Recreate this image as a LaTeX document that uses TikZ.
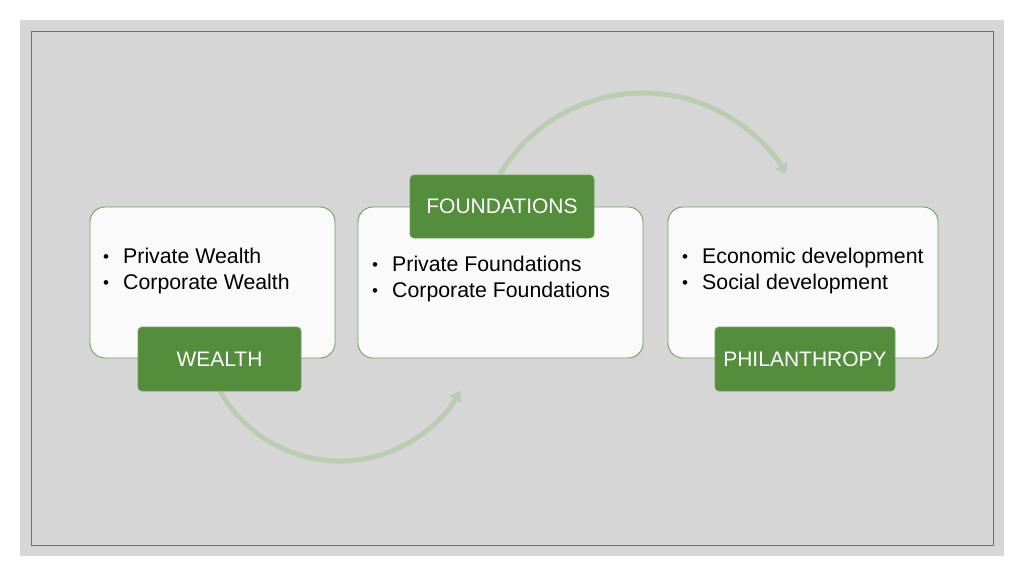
\documentclass[tikz,border=0pt]{standalone}
\usepackage{fontspec}
\setmainfont{Liberation Sans}
\usetikzlibrary{arrows.meta}
\definecolor{bggray}{RGB}{214,214,214}
\definecolor{frameline}{RGB}{110,110,110}
\definecolor{boxfill}{RGB}{250,250,250}
\definecolor{boxline}{RGB}{112,160,92}
\definecolor{grn}{RGB}{84,141,60}
\definecolor{arcgreen}{RGB}{186,205,178}
\tikzset{
  whitebox/.style={draw=boxline, line width=0.9pt, fill=boxfill, rounded corners=15pt, inner sep=0pt},
  greenbox/.style={draw=boxline, line width=0.7pt, fill=grn, rounded corners=4pt, inner sep=0pt,
    text=white, font=\fontsize{21}{25}\selectfont},
  itemline/.style={anchor=base west, inner sep=0pt, font=\fontsize{21.3}{25}\selectfont},
  flowarc/.style={draw=arcgreen, line width=5pt, -{Triangle[length=10pt,width=14pt]}}
}
\newcommand{\bul}[1]{\makebox[20pt][l]{\fontsize{17}{20}\selectfont\raisebox{1pt}{•}}#1}
\begin{document}
\begin{tikzpicture}[x=1pt,y=-1pt]
\useasboundingbox (0,0) rectangle (1024,576);
\fill[bggray] (20,20) rectangle (1004,556);
\draw[frameline, line width=1pt] (31,31) rectangle (993,545);

\coordinate (fndtop) at (500,174);
\coordinate (wltbot) at (220,391);

% arcs behind boxes
\draw[flowarc] (fndtop) arc[start angle=-149, end angle=-31, radius=167];
\draw[flowarc] (wltbot) arc[start angle=150.5, end angle=29.5, radius=138];

% white boxes
\node[whitebox, minimum width=245pt, minimum height=151pt] (b1) at (212.5,282.5) {};
\node[whitebox, minimum width=285pt, minimum height=151pt] (b2) at (500.5,282.5) {};
\node[whitebox, minimum width=270pt, minimum height=151pt] (b3) at (803,282.5) {};

% bullet texts
\node[itemline] (t11) at (103,263) {\bul{Private Wealth}};
\node[itemline] (t12) at (103,289) {\bul{Corporate Wealth}};
\node[itemline] (t21) at (372,271) {\bul{Private Foundations}};
\node[itemline] (t22) at (372,297) {\bul{Corporate Foundations}};
\node[itemline] (t31) at (682,263) {\bul{Economic development}};
\node[itemline] (t32) at (682,289) {\bul{Social development}};

% green label boxes
\node[greenbox, minimum width=163pt, minimum height=64pt] (wlt) at (219.5,359) {WEALTH};
\node[greenbox, minimum width=184pt, minimum height=63pt] (fnd) at (502,206.5) {FOUNDATIONS};
\node[greenbox, minimum width=180pt, minimum height=64pt] (phl) at (805,359) {PHILANTHROPY};
\end{tikzpicture}
\end{document}
